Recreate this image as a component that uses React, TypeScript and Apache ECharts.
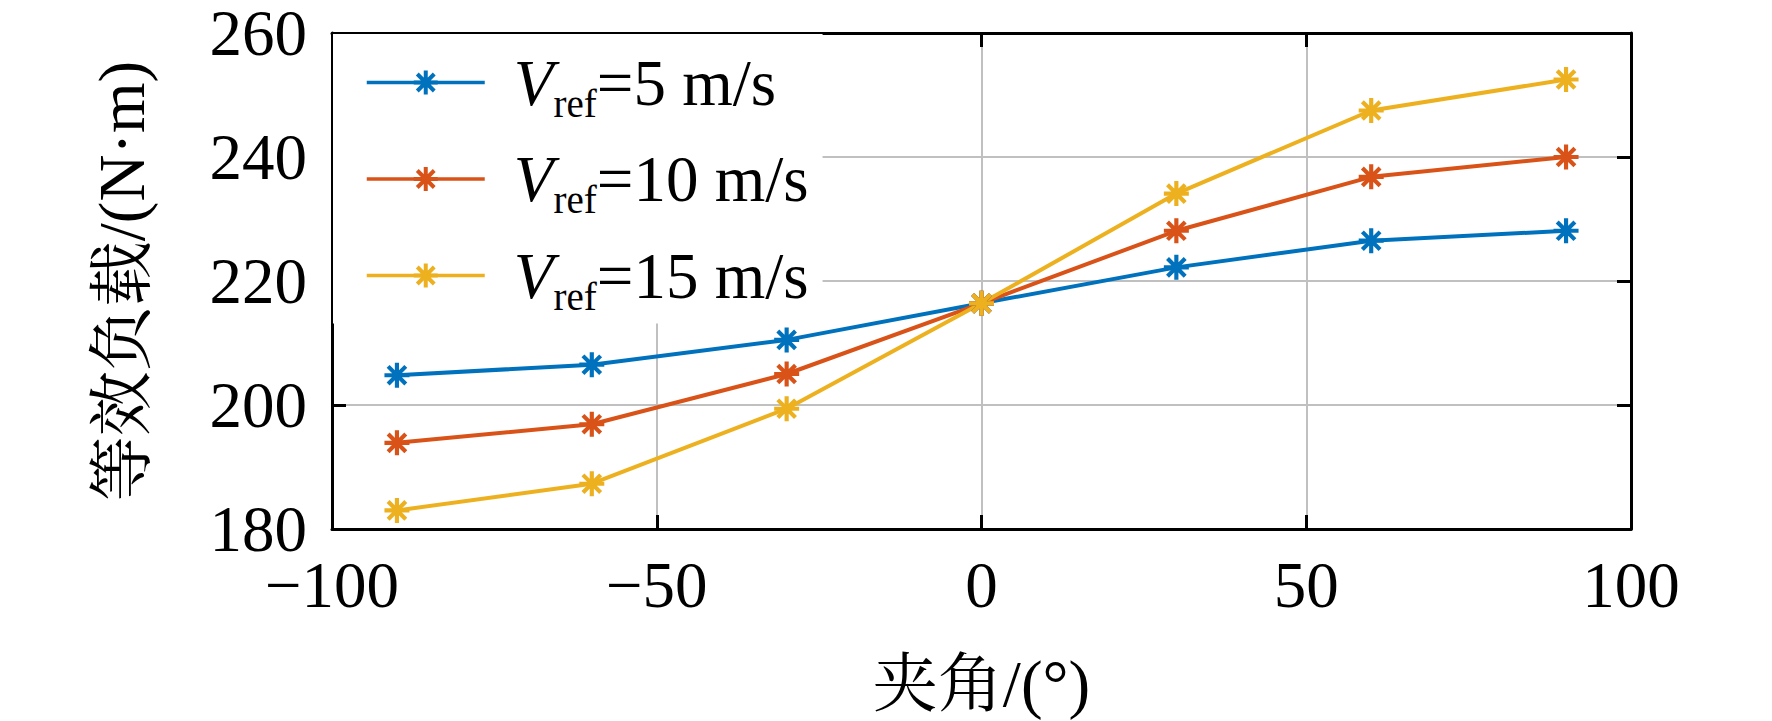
import React, { useEffect, useRef } from "react";
import * as echarts from "echarts";

const angles = [-90, -60, -30, 0, 30, 60, 90];
const seriesNames = ["Vref=5 m/s", "Vref=10 m/s", "Vref=15 m/s"];
const speedLabels = ["=5 m/s", "=10 m/s", "=15 m/s"];
const load5 = [204.8, 206.5, 210.5, 216.4, 222.2, 226.5, 228.1];
const load10 = [193.9, 196.9, 205.0, 216.4, 228.1, 236.8, 240.0];
const load15 = [183.0, 187.3, 199.4, 216.4, 234.1, 247.5, 252.5];
const colors = ["#0072BD", "#D95319", "#EDB120"];

const xMin = -100, xMax = 100, xStep = 50;
const yMin = 180, yMax = 260, yStep = 20;

const SERIF = "'Liberation Serif', 'Times New Roman', serif";
const CJK = "'Liberation Serif', 'Noto Serif CJK SC', 'Noto Sans CJK SC', serif";

function asteriskPath(): string {
  const L = 12, w = 2;
  const parts: string[] = [];
  [0, 45, 90, 135].forEach((deg) => {
    const a = (deg * Math.PI) / 180;
    const c = Math.cos(a), s = Math.sin(a);
    const pts = [
      [-L, -w], [L, -w], [L, w], [-L, w],
    ].map(([px, py]) => [12 + px * c - py * s, 12 + px * s + py * c]);
    parts.push(
      "M" + pts.map((p) => p[0].toFixed(3) + " " + p[1].toFixed(3)).join(" L") + " Z"
    );
  });
  return "path://" + parts.join(" ");
}

export default function App() {
  const ref = useRef<HTMLDivElement>(null);
  useEffect(() => {
    if (!ref.current) return;
    const chart = echarts.init(ref.current, null, { renderer: "svg" });
    const sym = asteriskPath();
    const datasets = [load5, load10, load15];
    const minus = (v: number) => (v < 0 ? "\u2212" + Math.abs(v) : String(v));
    const axisCommon = {
      axisLine: { show: true, onZero: false, lineStyle: { color: "#000", width: 3 } },
      axisTick: { show: true, inside: true, length: 14, lineStyle: { color: "#000", width: 3 } },
    };
    chart.setOption({
      animation: false,
      backgroundColor: "#fff",
      grid: { left: 332, top: 33, right: 141, bottom: 192, containLabel: false },
      xAxis: [
        {
          type: "value",
          min: xMin,
          max: xMax,
          interval: xStep,
          position: "bottom",
          ...axisCommon,
          splitLine: { show: true, lineStyle: { color: "#c0c0c0", width: 2 } },
          axisLabel: {
            color: "#000",
            fontSize: 65,
            fontFamily: SERIF,
            margin: 24,
            formatter: (v: number) => minus(v),
          },
          name: "夹角/(°)",
          nameLocation: "middle",
          nameGap: 122,
          nameTextStyle: { color: "#000", fontSize: 65, fontFamily: CJK },
        },
        {
          type: "value",
          min: xMin,
          max: xMax,
          interval: xStep,
          position: "top",
          ...axisCommon,
          splitLine: { show: false },
          axisLabel: { show: false },
        },
      ],
      yAxis: [
        {
          type: "value",
          min: yMin,
          max: yMax,
          interval: yStep,
          position: "left",
          ...axisCommon,
          splitLine: { show: true, lineStyle: { color: "#c0c0c0", width: 2 } },
          axisLabel: {
            color: "#000",
            fontSize: 65,
            fontFamily: SERIF,
            margin: 25,
          },
          name: "等效负载/(N·m)",
          nameLocation: "middle",
          nameRotate: 90,
          nameGap: 178,
          nameTextStyle: { color: "#000", fontSize: 65, fontFamily: CJK },
        },
        {
          type: "value",
          min: yMin,
          max: yMax,
          interval: yStep,
          position: "right",
          ...axisCommon,
          splitLine: { show: false },
          axisLabel: { show: false },
        },
      ],
      legend: {
        show: true,
        orient: "vertical",
        left: 333,
        top: 34,
        padding: [16, 14, 8, 32],
        itemGap: 24,
        itemWidth: 118,
        itemHeight: 30,
        backgroundColor: "#fff",
        borderWidth: 0,
        lineStyle: { width: 3.5 },
        data: seriesNames,
        formatter: (name: string) => {
          const i = seriesNames.indexOf(name);
          return "{v|V}{s|ref}{n|" + speedLabels[i] + "}";
        },
        textStyle: {
          color: "#000",
          fontFamily: SERIF,
          fontSize: 65,
          rich: {
            v: {
              fontFamily: SERIF,
              fontSize: 65,
              fontStyle: "italic",
              lineHeight: 80,
              padding: [0, 0, 0, 24],
              color: "#000",
            },
            s: {
              fontFamily: SERIF,
              fontSize: 39,
              verticalAlign: "bottom",
              color: "#000",
            },
            n: {
              fontFamily: SERIF,
              fontSize: 65,
              lineHeight: 80,
              color: "#000",
            },
          },
        },
      },
      series: datasets.map((d, i) => ({
        name: seriesNames[i],
        type: "line",
        xAxisIndex: 0,
        yAxisIndex: 0,
        data: angles.map((a, j) => [a, d[j]]),
        symbol: sym,
        symbolSize: 25,
        showSymbol: true,
        color: colors[i],
        lineStyle: { color: colors[i], width: 4 },
        itemStyle: { color: colors[i], borderWidth: 0 },
        emphasis: { disabled: true },
      })),
    });
    return () => chart.dispose();
  }, []);
  return (
    <div
      ref={ref}
      style={{ position: "absolute", left: 0, top: 0, width: 1772, height: 721 }}
    />
  );
}
